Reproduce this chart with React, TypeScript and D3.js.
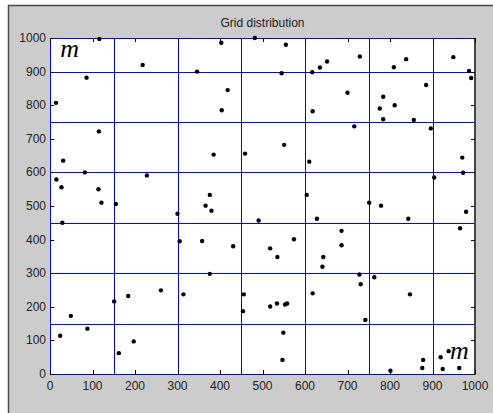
import React from 'react';
import * as d3 from 'd3';

// node coordinates
const xs = [116, 218, 346, 86, 14, 115, 403, 482, 555, 652, 635, 617, 545, 418, 404, 700, 618, 551, 729, 838,
    949, 809, 986, 991, 885, 784, 811, 776, 784, 856, 716, 896, 31, 82, 15, 27, 228, 114, 121, 155,
    29, 300, 305, 385, 459, 610, 376, 366, 380, 604, 491, 628, 358, 431, 574, 518, 535, 686, 686, 643,
    641, 970, 972, 904, 751, 779, 843, 979, 965, 151, 184, 261, 314, 49, 88, 24, 197, 162, 376, 456,
    454, 518, 534, 553, 558, 618, 549, 547, 728, 731, 763, 847, 742, 801, 878, 876, 919, 924, 938, 963];
const ys = [997, 920, 900, 882, 807, 722, 986, 1000, 980, 930, 912, 898, 895, 845, 785, 837, 782, 682, 945, 937,
    943, 913, 902, 881, 860, 825, 800, 790, 758, 756, 737, 731, 635, 600, 579, 556, 591, 550, 510, 506,
    450, 477, 395, 653, 656, 632, 533, 501, 486, 533, 457, 462, 396, 380, 401, 374, 348, 426, 383, 348,
    319, 644, 599, 585, 510, 501, 462, 483, 434, 216, 232, 249, 237, 173, 135, 114, 97, 62, 298, 237,
    187, 201, 210, 207, 210, 240, 123, 42, 296, 267, 288, 237, 161, 10, 42, 18, 50, 15, 68, 18];

const gridLines = [0, 150, 300, 450, 600, 750, 900];
const ticks = [0, 100, 200, 300, 400, 500, 600, 700, 800, 900, 1000];
const labelX = [24, 941];
const labelY = [943, 45];

export default function App() {
    const left = 50, right = 475, top = 38, bottom = 374;

    const x = d3.scaleLinear().domain([0, 1000]).range([left, right]);
    const y = d3.scaleLinear().domain([0, 1000]).range([bottom, top]);

    const font = '"Liberation Sans", Arial, sans-serif';

    return (
        <div style={{position: 'absolute', left: 0, top: 0}}>
            <svg width={493} height={413} style={{display: 'block'}}>
                <rect x={0} y={0} width={493} height={413} fill="#fff" />
                <rect x={8.5} y={5.5} width={490} height={420} fill="#cccccc" stroke="#4a4a4a" strokeWidth={1.5} />
                <rect x={left} y={top} width={right - left} height={bottom - top} fill="#fff" />

                {/* grid */}
                {gridLines.map(g => (
                    <line key={'v' + g} x1={Math.round(x(g)) + 0.5} x2={Math.round(x(g)) + 0.5} y1={top} y2={bottom}
                          stroke="#0000ff" strokeWidth={1} />
                ))}
                {gridLines.concat([1000]).map(g => (
                    <line key={'h' + g} x1={left} x2={right} y1={Math.round(y(g)) + 0.5} y2={Math.round(y(g)) + 0.5}
                          stroke="#0000ff" strokeWidth={1} />
                ))}
                <line x1={right} x2={right} y1={top} y2={bottom + 1} stroke="#444" strokeWidth={2} />

                {/* ticks */}
                {ticks.map(t => (
                    <g key={'t' + t} stroke="#000" strokeWidth={1}>
                        <line x1={Math.round(x(t)) + 0.5} x2={Math.round(x(t)) + 0.5} y1={bottom} y2={bottom - 4} />
                        <line x1={Math.round(x(t)) + 0.5} x2={Math.round(x(t)) + 0.5} y1={top} y2={top + 4} />
                        <line x1={left} x2={left + 4} y1={Math.round(y(t)) + 0.5} y2={Math.round(y(t)) + 0.5} />
                        <line x1={right - 4} x2={right} y1={Math.round(y(t)) + 0.5} y2={Math.round(y(t)) + 0.5} />
                    </g>
                ))}

                {/* points */}
                {xs.map((v, i) => (
                    <circle key={i} cx={x(v)} cy={y(ys[i])} r={2.2} fill="#000" />
                ))}

                {/* labels */}
                {ticks.map(t => (
                    <text key={'xl' + t} x={x(t)} y={bottom + 16} textAnchor="middle"
                          fontFamily={font} fontSize={12} fill="#222">{t}</text>
                ))}
                {ticks.map(t => (
                    <text key={'yl' + t} x={left - 4} y={y(t) + 4} textAnchor="end"
                          fontFamily={font} fontSize={12} fill="#222">{t}</text>
                ))}
                <text x={(left + right) / 2} y={27} textAnchor="middle" fontFamily={font} fontSize={12} fill="#222">
                    Grid distribution
                </text>

                {labelX.map((v, i) => (
                    <text key={'m' + i} x={x(v)} y={y(labelY[i])} fontFamily='"Liberation Serif", "Times New Roman", serif'
                          fontStyle="italic" fontSize={26} fill="#000">m</text>
                ))}
            </svg>
        </div>
    );
}
